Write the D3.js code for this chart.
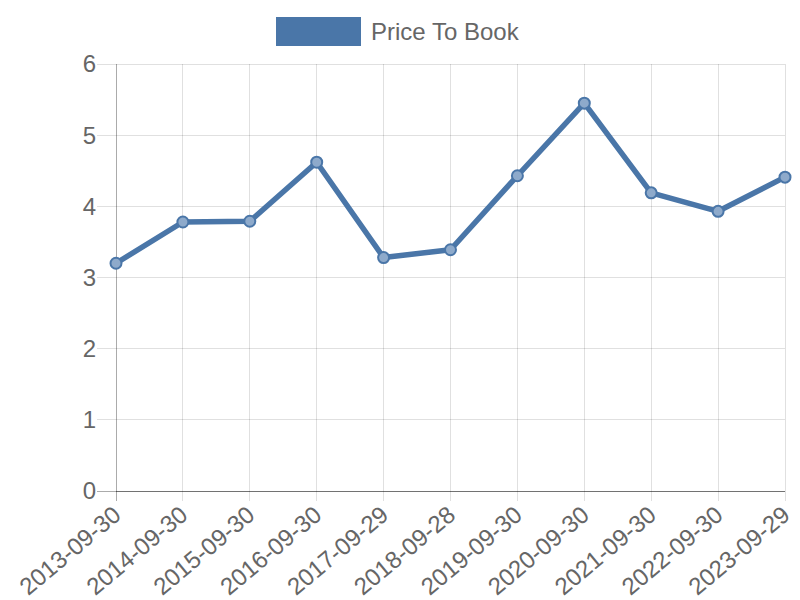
<!DOCTYPE html>
<html><head><meta charset="utf-8">
<script src="https://cdn.jsdelivr.net/npm/d3@7"></script>
<style>body{margin:0;background:#fff;}text{font-family:"Liberation Sans",Arial,sans-serif;}</style>
</head><body><svg id="c" width="800" height="600"></svg>
<script>
const dates = ["2013-09-30","2014-09-30","2015-09-30","2016-09-30","2017-09-29","2018-09-28","2019-09-30","2020-09-30","2021-09-30","2022-09-30","2023-09-29"];
const values = [3.20,3.78,3.79,4.62,3.28,3.39,4.43,5.45,4.19,3.93,4.41];
const yTicks = [0,1,2,3,4,5,6];
const seriesName = "Price To Book";

const svg = d3.select("#c");
const L=116, R=785, T=64, B=491;
const color="#4a76a8";
const x = d3.scalePoint().domain(dates).range([L,R]);
const y = d3.scaleLinear().domain([0,6]).range([B,T]);

// grid
const g = svg.append("g");
g.selectAll(".hg").data(yTicks).join("line")
 .attr("x1",L-19).attr("x2",R).attr("y1",d=>y(d)).attr("y2",d=>y(d))
 .attr("stroke",d=>d===0?"rgba(0,0,0,0.33)":"rgba(0,0,0,0.12)").attr("stroke-width",1).attr("shape-rendering","crispEdges");
g.selectAll(".vg").data(dates).join("line")
 .attr("x1",d=>x(d)).attr("x2",d=>x(d)).attr("y1",T).attr("y2",B+10)
 .attr("stroke",(d,i)=>i===0?"rgba(0,0,0,0.33)":"rgba(0,0,0,0.12)").attr("stroke-width",1).attr("shape-rendering","crispEdges");
g.append("line").attr("x1",L).attr("x2",R).attr("y1",B).attr("y2",B).attr("stroke","rgba(0,0,0,0.33)").attr("shape-rendering","crispEdges");

// y labels
svg.selectAll(".yl").data(yTicks).join("text")
 .attr("x",L-20).attr("y",d=>y(d)).attr("dy","0.35em").attr("text-anchor","end")
 .attr("font-size",24).attr("fill","#666").text(d=>d);

// x labels
svg.selectAll(".xl").data(dates).join("text")
 .attr("transform",d=>`translate(${x(d)+1},${B+20}) rotate(-40)`)
 .attr("text-anchor","end").attr("dy","0.35em")
 .attr("font-size",24).attr("fill","#666").text(d=>d);

// line
const line = d3.line().x((d,i)=>x(dates[i])).y(d=>y(d));
svg.append("path").datum(values).attr("d",line).attr("fill","none")
 .attr("stroke",color).attr("stroke-width",5.5).attr("stroke-linejoin","round");
svg.selectAll(".pt").data(values).join("circle")
 .attr("cx",(d,i)=>x(dates[i])).attr("cy",d=>y(d)).attr("r",5.5)
 .attr("fill","#8eaacb").attr("stroke",color).attr("stroke-width",2);

// legend
svg.append("rect").attr("x",276).attr("y",17).attr("width",85).attr("height",29).attr("fill",color);
svg.append("text").attr("x",371).attr("y",32).attr("dy","0.35em").attr("font-size",24).attr("fill","#666").text(seriesName);
</script></body></html>
